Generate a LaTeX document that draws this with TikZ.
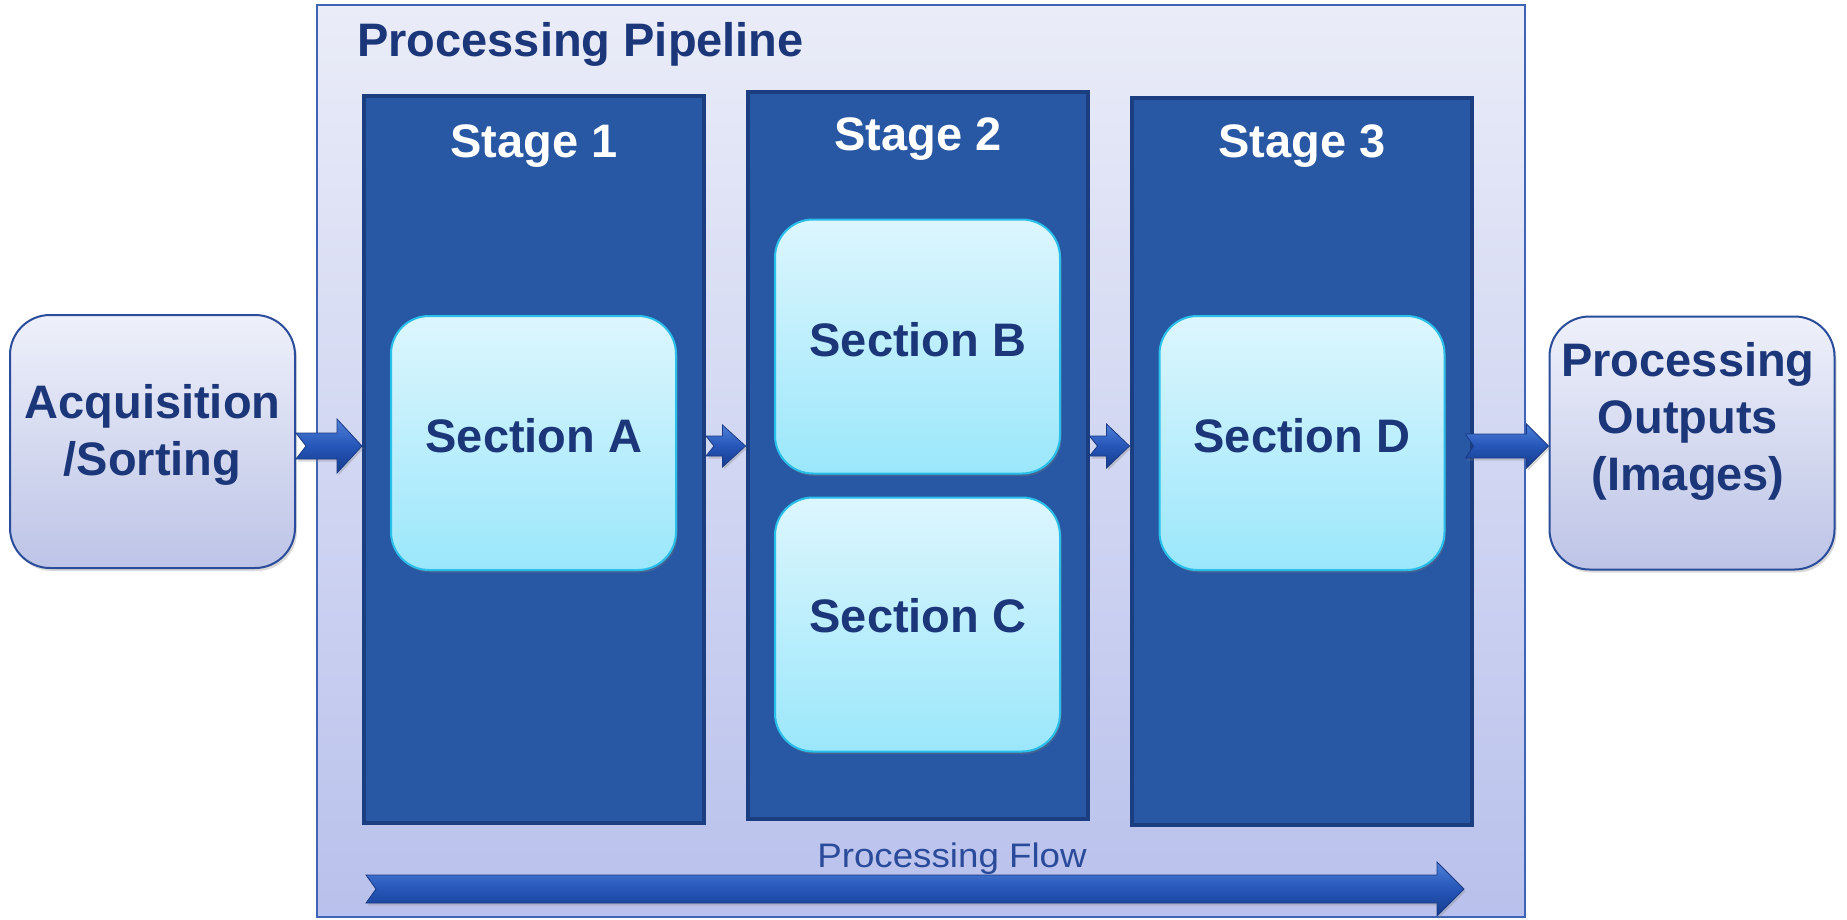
\documentclass[tikz,border=0pt]{standalone}
\usepackage{fontspec}
\setmainfont{Liberation Sans}
\usetikzlibrary{calc,shadows}

\definecolor{navy}{HTML}{1B3679}
\definecolor{flowtext}{HTML}{2A4B9A}
\definecolor{outertop}{HTML}{EAECF8}
\definecolor{outerbot}{HTML}{B9C1EC}
\definecolor{outerline}{HTML}{3F63B5}
\definecolor{stagefill}{HTML}{2857A3}
\definecolor{stageline}{HTML}{1B3E80}
\definecolor{sectop}{HTML}{DDF6FD}
\definecolor{secbot}{HTML}{9BE7FB}
\definecolor{secline}{HTML}{28BFEA}
\definecolor{iotop}{HTML}{EEF0FA}
\definecolor{iobot}{HTML}{BDC4E6}
\definecolor{ioline}{HTML}{2A4C9A}
\definecolor{arrtop}{HTML}{4F80D8}
\definecolor{arrmid}{HTML}{2556B8}
\definecolor{arrbot}{HTML}{163C8C}
\definecolor{arrline}{HTML}{1A3A85}

\tikzset{
  bigbold/.style={font=\fontsize{47}{57}\selectfont\bfseries},
  pipebox/.style={draw=outerline, line width=1.5pt, top color=outertop,
    bottom color=outerbot, minimum width=1208pt, minimum height=912pt, inner sep=0},
  stagebox/.style={draw=stageline, line width=4pt, fill=stagefill,
    minimum width=340pt, minimum height=727pt, inner sep=0},
  secbox/.style={draw=secline, line width=2pt, top color=sectop, bottom color=secbot,
    rounded corners=38pt, minimum width=285pt, minimum height=254pt, inner sep=0,
    drop shadow={opacity=0.35, shadow xshift=1.5pt, shadow yshift=-2.5pt}},
  iobox/.style={draw=ioline, line width=2pt, top color=iotop, bottom color=iobot,
    rounded corners=40pt, minimum width=285pt, minimum height=253pt, inner sep=0,
    drop shadow={opacity=0.3, shadow xshift=2pt, shadow yshift=-3pt}},
  stagetitle/.style={bigbold, text=white, anchor=base, inner sep=0},
  sectext/.style={bigbold, text=navy, anchor=base, inner sep=0},
  iotext/.style={bigbold, text=navy, anchor=base, inner sep=0, align=center},
  arrowbody/.style={draw=arrline, line width=0.8pt, top color=arrtop,
    bottom color=arrbot, middle color=arrmid, line join=miter,
    drop shadow={opacity=0.3, shadow xshift=1.5pt, shadow yshift=-2.5pt}},
}

% notched block arrow: from, to, body half-height, head half-height, head length, notch
\newcommand\blockarrow[6]{%
  \path[arrowbody] let \p1=(#1), \p2=(#2) in
    (\x1,\y1+#3) -- (\x2-#5,\y1+#3) -- (\x2-#5,\y1+#4) -- (\x2,\y1)
    -- (\x2-#5,\y1-#4) -- (\x2-#5,\y1-#3) -- (\x1,\y1-#3) -- (\x1+#6,\y1) -- cycle;}

\begin{document}
\begin{tikzpicture}[x=1pt,y=-1pt]
\useasboundingbox (0,0) rectangle (1847,919);

% processing pipeline frame
\node[pipebox] (pipe) at (921,461) {};
\node[bigbold, text=navy, anchor=base west, inner sep=0] (pipetitle) at (357,56)
  {Processing Pipeline};

% stages
\node[stagebox] (st1) at (534,459) {};
\node[stagebox] (st2) at (917.5,455.5) {};
\node[stagebox] (st3) at (1301.5,461.5) {};
\node[stagetitle] (st1t) at (534,157) {Stage 1};
\node[stagetitle] (st2t) at (918,150) {Stage 2};
\node[stagetitle] (st3t) at (1302,157) {Stage 3};

% sections
\node[secbox] (secA) at (533.5,443) {};
\node[secbox] (secB) at (917.5,346.5) {};
\node[secbox] (secC) at (917.5,624.5) {};
\node[secbox] (secD) at (1302,443) {};
\node[sectext] at (534,452) {Section A};
\node[sectext] at (918,356) {Section B};
\node[sectext] at (918,632) {Section C};
\node[sectext] at (1302,452) {Section D};

% input and output boxes (base anchor sits on the last line)
\node[iobox] (acq) at (152.5,441.5) {};
\node[iobox] (out) at (1692,443) {};
\node[iotext] (acqt) at (152.5,475) {Acquisition\\/Sorting};
\node[iotext] (outt) at (1688,490) {Processing\\Outputs\\(Images)};

% connectors
\coordinate (mid) at (0,446);
\coordinate (d0) at ($(st3.east |- mid)+(-8,0)$);
\blockarrow{acq.east |- mid}{st1.west |- mid}{13pt}{27pt}{25pt}{10pt}
\blockarrow{st1.east |- mid}{st2.west |- mid}{10pt}{21pt}{23pt}{8pt}
\blockarrow{st2.east |- mid}{st3.west |- mid}{10pt}{22pt}{23pt}{8pt}
\blockarrow{d0}{out.west |- mid}{12pt}{22pt}{22pt}{8pt}

% overall flow
\coordinate (f0) at (366,889);
\coordinate (f1) at (1464,889);
\blockarrow{f0}{f1}{14pt}{27pt}{27pt}{10pt}
\node[font=\fontsize{34}{40}\selectfont, text=flowtext, anchor=base, inner sep=0,
  xscale=1.08] (flowt) at (952,867) {Processing Flow};
\end{tikzpicture}
\end{document}
